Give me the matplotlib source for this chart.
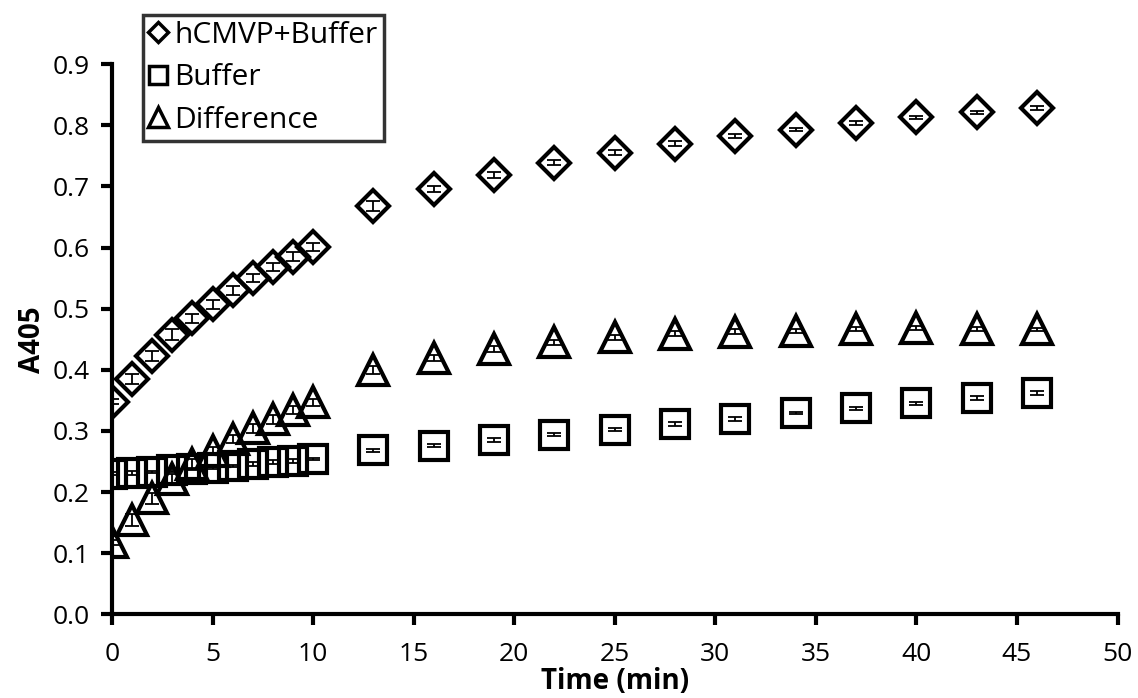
import matplotlib.pyplot as plt
import numpy as np

plt.rcParams['font.family'] = ['Open Sans', 'DejaVu Sans']

times = [0, 1, 2, 3, 4, 5, 6, 7, 8, 9, 10, 13, 16, 19, 22, 25, 28, 31, 34, 37, 40, 43, 46]

hcmvp_buffer = [0.348, 0.385, 0.423, 0.457, 0.484, 0.507, 0.530, 0.550, 0.568, 0.585, 0.601,
                0.668, 0.696, 0.719, 0.739, 0.755, 0.770, 0.782, 0.793, 0.804, 0.813, 0.821, 0.828]
hcmvp_err = [0.004, 0.008, 0.008, 0.009, 0.008, 0.007, 0.007, 0.007, 0.007, 0.007, 0.006,
             0.008, 0.005, 0.005, 0.004, 0.004, 0.004, 0.003, 0.003, 0.003, 0.003, 0.003, 0.003]

buffer = [0.230, 0.231, 0.233, 0.236, 0.238, 0.240, 0.243, 0.246, 0.249, 0.251, 0.254,
          0.268, 0.276, 0.285, 0.294, 0.302, 0.311, 0.320, 0.329, 0.337, 0.345, 0.354, 0.362]
buffer_err = [0.002, 0.003, 0.002, 0.003, 0.002, 0.002, 0.002, 0.003, 0.003, 0.003, 0.002,
              0.002, 0.002, 0.003, 0.003, 0.002, 0.003, 0.003, 0.002, 0.002, 0.003, 0.003, 0.003]

difference = [0.118, 0.154, 0.190, 0.221, 0.246, 0.267, 0.287, 0.304, 0.319, 0.334, 0.347,
              0.400, 0.420, 0.434, 0.445, 0.453, 0.459, 0.462, 0.464, 0.467, 0.468, 0.467, 0.466]
difference_err = [0.004, 0.010, 0.009, 0.009, 0.008, 0.007, 0.007, 0.007, 0.007, 0.007, 0.006,
                  0.007, 0.005, 0.005, 0.004, 0.004, 0.004, 0.004, 0.003, 0.003, 0.003, 0.003, 0.003]

fig = plt.figure(figsize=(11.38, 6.98), dpi=100)
ax = fig.add_axes([0.0984, 0.12, 0.8836, 0.788])

series = [
    (hcmvp_buffer, hcmvp_err, "D", 16, "hCMVP+Buffer"),
    (buffer, buffer_err, "s", 20, "Buffer"),
    (difference, difference_err, "^", 22, "Difference"),
]
handles = []
for vals, errs, mk, ms, label in series:
    ax.errorbar(times, vals, yerr=errs, fmt="none", ecolor="black",
                elinewidth=1.3, capsize=5, capthick=1.3, zorder=3)
    ax.plot(times, vals, ls="none", marker=mk, ms=ms, mfc="none",
            mec="black", mew=3, zorder=4)
    lh, = ax.plot([], [], ls="none", marker=mk, ms=ms * 0.65, mfc="none",
                  mec="black", mew=2.5, label=label)
    handles.append(lh)

ax.set_xlim(0, 50)
ax.set_ylim(0, 0.9)
ax.set_xticks(np.arange(0, 51, 5))
ax.set_yticks(np.arange(0, 0.91, 0.1))
ax.set_yticklabels([f"{v:.1f}" for v in np.arange(0, 0.91, 0.1)])

for side in ["top", "right"]:
    ax.spines[side].set_visible(False)
for side in ["left", "bottom"]:
    ax.spines[side].set_linewidth(3)
    ax.spines[side].set_clip_on(False)
ax.tick_params(direction="out", length=8, width=3, labelsize=19)
ax.tick_params(axis="x", pad=12)
ax.tick_params(axis="y", pad=8)

ax.set_xlabel("Time (min)", fontsize=20, fontweight="bold", labelpad=0)
ax.set_ylabel("A405", fontsize=20, fontweight="bold", labelpad=4)

leg = ax.legend(handles=handles, loc="upper left", bbox_to_anchor=(0.031, 1.09),
                fontsize=21.5, frameon=True, fancybox=False, edgecolor="black",
                handlelength=0.6, handletextpad=0.25, borderpad=0.2,
                labelspacing=0.45, borderaxespad=0)
leg.get_frame().set_linewidth(2.5)

fig.savefig("out.png", dpi=100)
